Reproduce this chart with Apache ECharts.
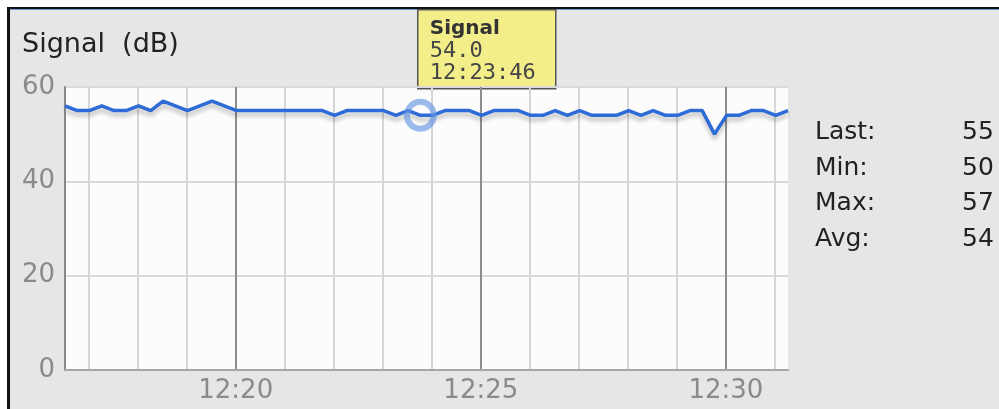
<!DOCTYPE html>
<html>
<head>
<meta charset="utf-8">
<script src="https://cdn.jsdelivr.net/npm/echarts@6/dist/echarts.min.js"></script>
<style>
  html, body { margin: 0; padding: 0; background: #fff; }
  #chart { width: 999px; height: 409px; }
</style>
</head>
<body>
<div id="chart"></div>
<script>
// samples, every 15 s
const times = [
  '12:16:31', '12:16:46', '12:17:01', '12:17:16', '12:17:31', '12:17:46', '12:18:01', '12:18:16',
  '12:18:31', '12:18:46', '12:19:01', '12:19:16', '12:19:31', '12:19:46', '12:20:01', '12:20:16',
  '12:20:31', '12:20:46', '12:21:01', '12:21:16', '12:21:31', '12:21:46', '12:22:01', '12:22:16',
  '12:22:31', '12:22:46', '12:23:01', '12:23:16', '12:23:31', '12:23:46', '12:24:01', '12:24:16',
  '12:24:31', '12:24:46', '12:25:01', '12:25:16', '12:25:31', '12:25:46', '12:26:01', '12:26:16',
  '12:26:31', '12:26:46', '12:27:01', '12:27:16', '12:27:31', '12:27:46', '12:28:01', '12:28:16',
  '12:28:31', '12:28:46', '12:29:01', '12:29:16', '12:29:31', '12:29:46', '12:30:01', '12:30:16',
  '12:30:31', '12:30:46', '12:31:01', '12:31:16'
];
const signal = [
  56, 55, 55, 56, 55, 55, 56, 55, 57, 56, 55, 56, 57, 56, 55,
  55, 55, 55, 55, 55, 55, 55,
  54, 55, 55, 55, 55, 54, 55, 54,
  54, 55, 55, 55, 54, 55, 55, 55, 54, 54, 55, 54, 55, 54,
  54, 54, 55, 54, 55, 54, 54, 55, 55, 50, 54, 54, 55, 55, 54, 55
];
const majorLabels = ['12:20', '12:25', '12:30'];
const statNames = ['Last:', 'Min:', 'Max:', 'Avg:'];
const statValues = ['55', '50', '57', '54'];
const tipIndex = 29; // hovered point

function toSec(t) {
  const p = t.split(':').map(Number);
  return p[0] * 3600 + p[1] * 60 + (p[2] || 0);
}
function pad(n) { return (n < 10 ? '0' : '') + n; }
function fmtMin(s) { return pad(Math.floor(s / 3600)) + ':' + pad(Math.floor(s / 60) % 60); }

const xs = times.map(toSec);
const xMin = xs[0];
const xMax = xs[xs.length - 1];
const majorTicks = majorLabels.map(toSec);
let minorTicks = [];
for (let s = Math.ceil(xMin / 60) * 60; s <= xMax; s += 60) minorTicks.push(s);

const myChart = echarts.init(document.getElementById('chart'));
const labelFont = 'DejaVu Sans';

// hover box
const tipBox = {
  type: 'group', left: 417, top: 9, z: 100,
  children: [
    { type: 'rect', shape: { x: 0, y: 0, width: 138, height: 79 }, style: { fill: '#f3ee8a', stroke: '#555', lineWidth: 1.5 } },
    { type: 'text', x: 12, y: 9, style: { text: 'Signal', fill: '#333', font: 'bold 20px "DejaVu Sans"' } },
    { type: 'text', x: 12, y: 31, style: { text: signal[tipIndex].toFixed(1), fill: '#444', font: '22px "DejaVu Sans Mono"' } },
    { type: 'text', x: 12, y: 53, style: { text: times[tipIndex], fill: '#444', font: '22px "DejaVu Sans Mono"' } }
  ]
};

const option = {
  animation: false,
  backgroundColor: '#fff',
  graphic: [
    { type: 'rect', z: -10, shape: { x: 8, y: 8, width: 991, height: 401 }, style: { fill: '#e6e6e6' } },
    { type: 'rect', z: -9, shape: { x: 7, y: 7, width: 992, height: 2 }, style: { fill: '#111' } },
    { type: 'rect', z: -9, shape: { x: 9, y: 9, width: 990, height: 1 }, style: { fill: '#6f9ad8' } },
    { type: 'rect', z: -9, shape: { x: 7, y: 7, width: 3, height: 402 }, style: { fill: '#111' } },
    { type: 'text', left: 22, top: 31, style: { text: 'Signal  (dB)', fill: '#222', font: '27px "DejaVu Sans"' } },
    {
      type: 'group', left: 815, top: 120,
      children: statNames.map((n, i) => ({
        type: 'text', x: 0, y: i * 35.5,
        style: { text: n, fill: '#222', font: '25px "DejaVu Sans"' }
      })).concat(statValues.map((v, i) => ({
        type: 'text', x: 147, y: i * 35.5,
        style: { text: v, fill: '#222', font: '25px "DejaVu Sans"' }
      })))
    },
    tipBox
  ],
  grid: {
    left: 65, right: 211, top: 87, bottom: 39,
    show: true, backgroundColor: '#fcfcfc', borderWidth: 0
  },
  xAxis: [
    {
      type: 'value', min: xMin, max: xMax,
      axisLine: { show: false },
      axisTick: { show: false, customValues: minorTicks },
      axisLabel: { show: false, customValues: minorTicks },
      splitLine: { show: true, lineStyle: { color: '#d6d6d6', width: 2 } }
    },
    {
      type: 'value', min: xMin, max: xMax, position: 'bottom',
      axisLine: { show: true, onZero: false, lineStyle: { color: '#a6a6a6', width: 2 } },
      axisTick: { show: false, customValues: majorTicks },
      axisLabel: {
        customValues: majorTicks, color: '#8a8a8a', fontFamily: labelFont, fontSize: 26, margin: 8,
        formatter: (v) => fmtMin(v)
      },
      splitLine: { show: true, lineStyle: { color: '#8e8e8e', width: 2 } }
    }
  ],
  yAxis: {
    type: 'value', min: 0, max: 60, interval: 20,
    axisLine: { show: true, lineStyle: { color: '#8a8a8a', width: 2 } },
    axisTick: { show: false },
    axisLabel: { color: '#8a8a8a', fontFamily: labelFont, fontSize: 26, margin: 10 },
    splitLine: { show: true, lineStyle: { color: '#dadada', width: 2 } }
  },
  series: [
    {
      name: 'Signal',
      type: 'line',
      xAxisIndex: 0,
      data: xs.map((x, i) => [x, signal[i]]),
      showSymbol: false,
      symbol: 'none',
      lineStyle: {
        color: '#2d6bd6', width: 3.5,
        shadowColor: 'rgba(0,0,0,0.25)', shadowBlur: 4, shadowOffsetY: 4
      },
      markPoint: {
        symbol: 'circle',
        symbolSize: 27,
        silent: true,
        label: { show: false },
        itemStyle: { color: 'rgba(0,0,0,0)', borderColor: 'rgba(100,150,225,0.65)', borderWidth: 6 },
        data: [{ coord: [xs[tipIndex], signal[tipIndex]] }]
      }
    }
  ]
};

myChart.setOption(option);
</script>
</body>
</html>
